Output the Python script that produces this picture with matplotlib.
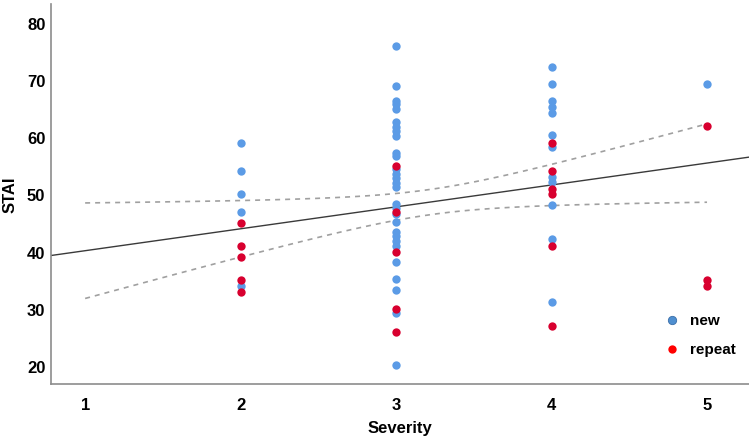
import numpy as np
import matplotlib.pyplot as plt

plt.rcParams['font.family'] = ['Liberation Sans', 'DejaVu Sans']

# STAI readings per severity level, by group
new_stai = {
    2: [59, 54, 50, 47, 34],
    3: [76, 69, 66.4, 65.8, 65, 62.6, 61.8, 61, 60.2, 57.3, 56.7, 54.4, 53.6, 52.8, 52, 51.2,
        48.3, 47.6, 46.6, 45.1, 43.4, 42.8, 41.9, 41, 38.1, 35.2, 33.2, 29.3, 20.2],
    4: [72.2, 69.2, 66.3, 65.2, 64.2, 60.3, 58.2, 53.1, 52.2, 48.2, 42.2, 31.2],
    5: [69.3],
}
rep_stai = {
    2: [45, 41, 39, 35, 33],
    3: [55, 47, 40, 30, 26],
    4: [59, 54, 51, 50, 41, 27],
    5: [62, 35, 34],
}

# fit line and 95% mean CI
fit_intercept = 36.32
fit_slope = 3.83
ci_xmean = 3.216
ci_a = 4.88    # variance term at the mean
ci_b = 13.2    # growth with (x - mean)^2

new_x = [k for k, v in new_stai.items() for _ in v]
new_y = [y for v in new_stai.values() for y in v]
rep_x = [k for k, v in rep_stai.items() for _ in v]
rep_y = [y for v in rep_stai.values() for y in v]

fig = plt.figure(figsize=(7.49, 4.39), dpi=100)
ax = fig.add_axes([0.068, 0.123, 0.932, 0.866])

xl = np.array([0.78, 5.27])
ax.plot(xl, fit_intercept + fit_slope * xl, color='#3a3a3a', lw=1.0, zorder=2)
xc = np.linspace(1, 5, 100)
half = np.sqrt(ci_a + ci_b * (xc - ci_xmean) ** 2)
mid = fit_intercept + fit_slope * xc
ax.plot(xc, mid + half, color='#a0a0a0', lw=1.2, ls=(0, (3, 3)), zorder=2)
ax.plot(xc, mid - half, color='#a0a0a0', lw=1.2, ls=(0, (3, 3)), zorder=2)

ax.scatter(new_x, new_y, s=36, color='#5b9be6', lw=0, zorder=3)
ax.scatter(rep_x, rep_y, s=36, color='#d8002f', lw=0, zorder=4)

# legend
ax.scatter([], [], s=36, color='#4f8fd0', edgecolor='#3a6ea8', lw=0.6, label='new')
ax.scatter([], [], s=36, color='#ff0000', lw=0, label='repeat')
ax.legend(loc='center', bbox_to_anchor=(0.924, 0.13), frameon=False,
          handletextpad=0.2, labelspacing=1.0, prop={'weight': 'bold', 'size': 11})

ax.set_xlim(0.78, 5.27)
ax.set_ylim(16.85, 83.3)
ax.set_xticks([1, 2, 3, 4, 5])
ax.set_yticks([20, 30, 40, 50, 60, 70, 80])
ax.tick_params(axis='y', length=0, labelsize=12, pad=4)
ax.tick_params(axis='x', length=0, labelsize=12, pad=9)
for lab in ax.get_xticklabels() + ax.get_yticklabels():
    lab.set_fontweight('bold')
ax.set_xlabel('Severity', fontsize=12, fontweight='bold', labelpad=6)
ax.set_ylabel('STAI', fontsize=12, fontweight='bold', labelpad=7)

for sp in ['top', 'right']:
    ax.spines[sp].set_visible(False)
for sp in ['left', 'bottom']:
    ax.spines[sp].set_color('#8c8c8c')
    ax.spines[sp].set_linewidth(1.2)

fig.savefig('out.png', dpi=100)
